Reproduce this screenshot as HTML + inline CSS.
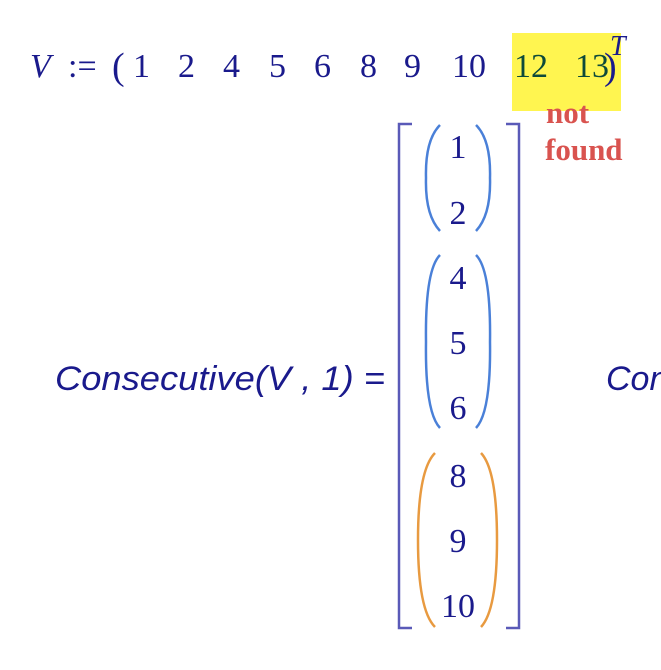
<!DOCTYPE html>
<html><head><meta charset="utf-8"><style>
html,body{margin:0;padding:0;background:#fff;}
svg{display:block}
</style></head><body>
<svg width="661" height="670" viewBox="0 0 661 670" xmlns="http://www.w3.org/2000/svg">
<rect x="512" y="33" width="109" height="78" fill="#fff550"/>
<g fill="#1a1a8c" font-family="Liberation Serif, serif" font-size="34">
<text x="30" y="77" font-style="italic">V</text>
<text x="68" y="77">:=</text>
<text x="112" y="79" font-size="38">(</text>
<text x="133" y="77">1</text>
<text x="178" y="77">2</text>
<text x="223" y="77">4</text>
<text x="269" y="77">5</text>
<text x="314" y="77">6</text>
<text x="360" y="77">8</text>
<text x="404" y="77">9</text>
<text x="452" y="77">10</text>
<text x="514" y="77" fill="#0d4a3a">12</text>
<text x="575" y="77" fill="#0d4a3a">13</text>
<text x="604" y="79" font-size="38">)</text>
<text x="610" y="55" font-style="italic" font-size="28">T</text>
</g>
<g fill="#d9534f" font-family="Liberation Serif, serif" font-size="31" font-weight="bold">
<text x="546" y="123">not</text>
<text x="545" y="160">found</text>
</g>
<text x="55" y="390" fill="#1a1a8c" font-family="Liberation Sans, sans-serif" font-style="italic" font-size="34" textLength="330" lengthAdjust="spacingAndGlyphs">Consecutive(V , 1) =</text>
<text x="606" y="390" fill="#1a1a8c" font-family="Liberation Sans, sans-serif" font-style="italic" font-size="34">Con</text>
<g stroke="#5a5ab8" stroke-width="2.5" fill="none">
<path d="M412 124 H399 V628 H412"/>
<path d="M506 124 H519 V628 H506"/>
</g>
<g stroke="#4a80d8" stroke-width="2.5" fill="none">
<path d="M440 125 Q425 140 426 178 Q425 215 440 231"/>
<path d="M476 125 Q491 140 490 178 Q491 215 476 231"/>
<path d="M440 255 Q425 270 426 342 Q425 412 440 428"/>
<path d="M476 255 Q491 270 490 342 Q491 412 476 428"/>
<path d="M435 453 Q418 470 418 540 Q418 610 435 627" stroke="#e89a40"/>
<path d="M481 453 Q497 470 497 540 Q497 610 481 627" stroke="#e89a40"/>
</g>
<g fill="#1a1a8c" font-family="Liberation Serif, serif" font-size="34" text-anchor="middle">
<text x="458" y="158">1</text>
<text x="458" y="224">2</text>
<text x="458" y="289">4</text>
<text x="458" y="354">5</text>
<text x="458" y="419">6</text>
<text x="458" y="487">8</text>
<text x="458" y="552">9</text>
<text x="458" y="617">10</text>
</g>
</svg>
</body></html>
